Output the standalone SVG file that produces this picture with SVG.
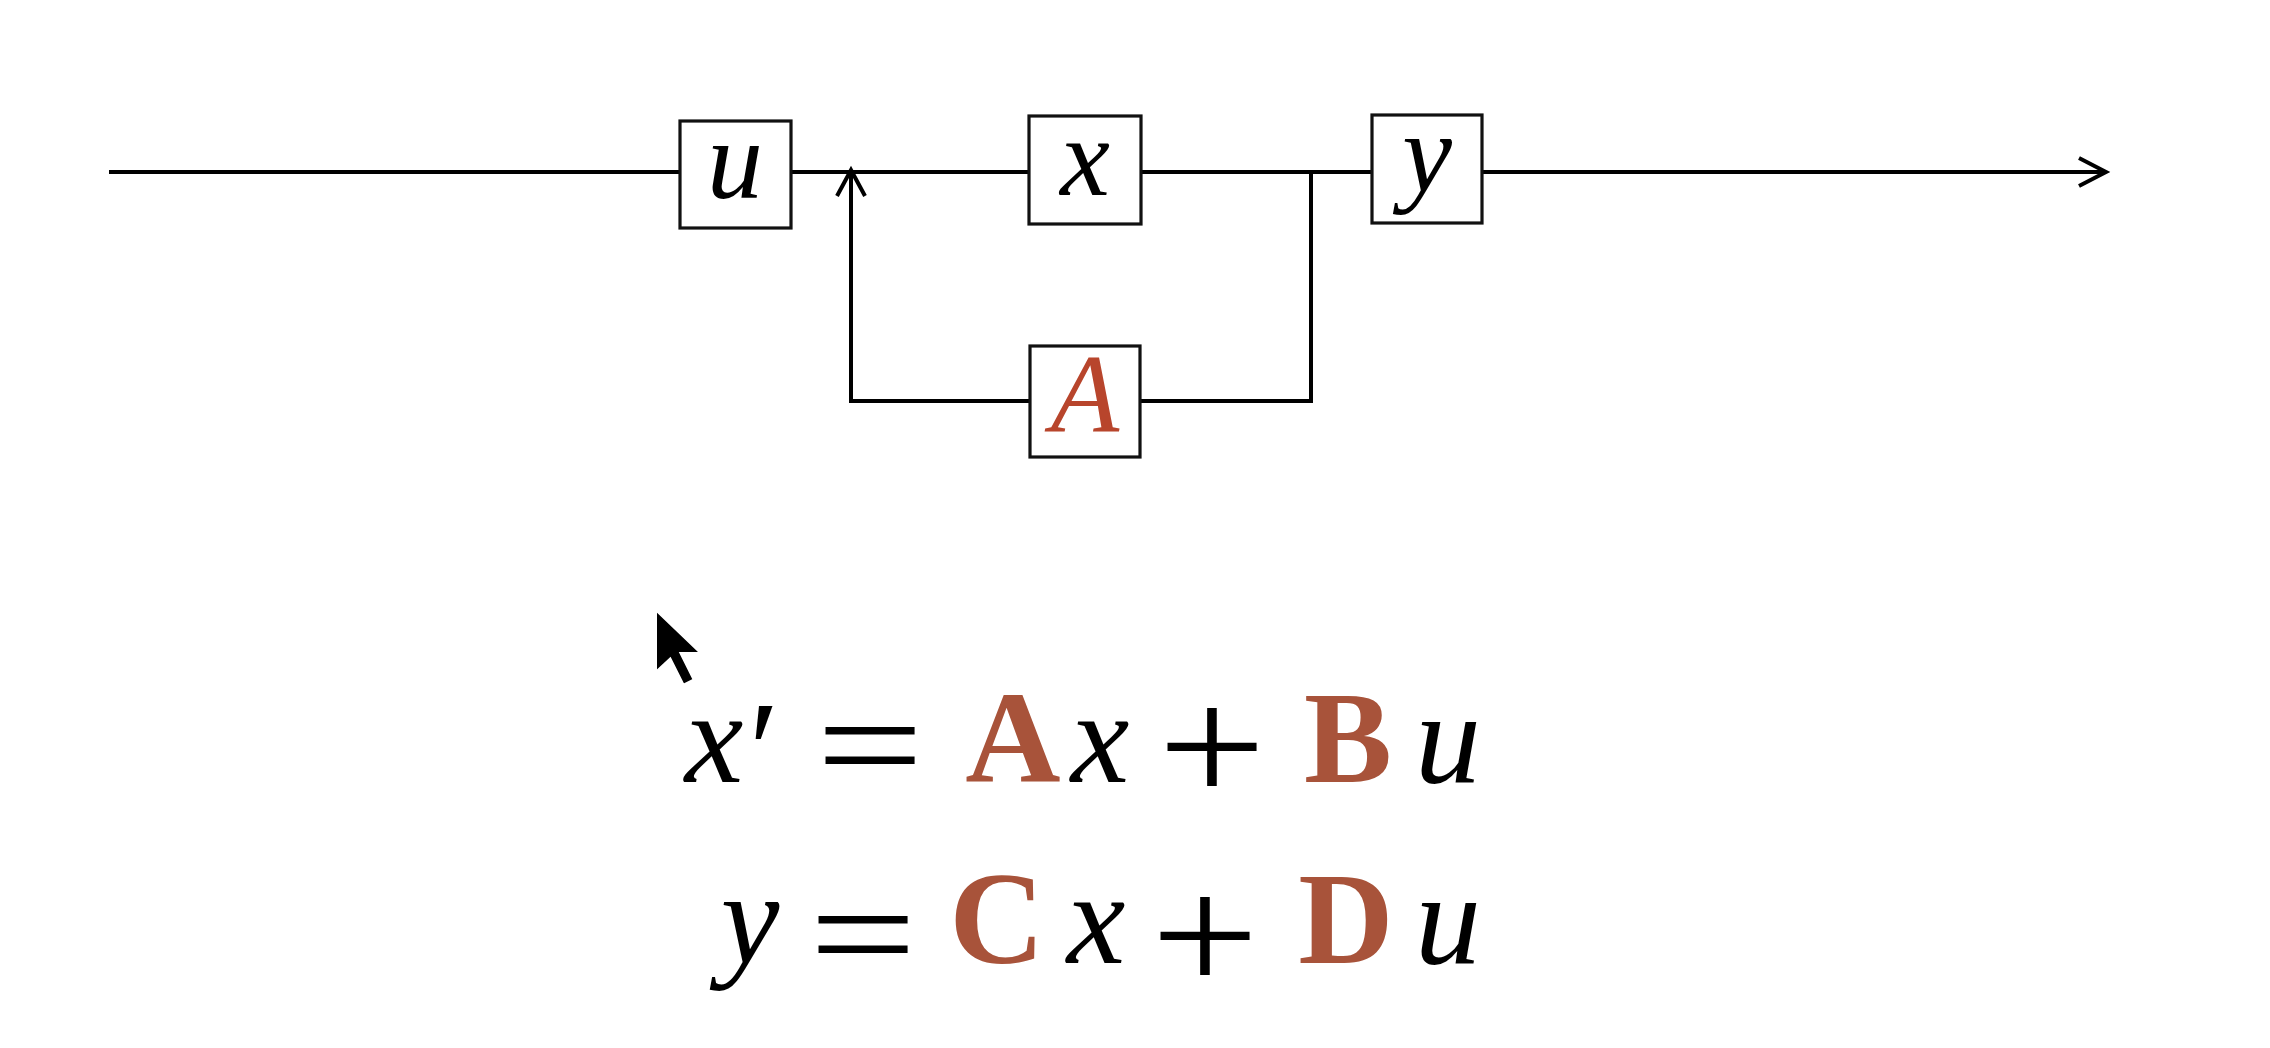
<svg xmlns="http://www.w3.org/2000/svg" width="2270" height="1048" viewBox="0 0 2270 1048">
<style>
.box{fill:#fff;stroke:#111;stroke-width:3.2}
.wire{fill:none;stroke:#000;stroke-width:4;stroke-linecap:butt;stroke-linejoin:miter}
.lbl{font-family:"Liberation Serif",serif;font-style:italic;font-size:112px;fill:#000;text-anchor:middle}
.eq{font-family:"Liberation Serif",serif;font-size:132px;fill:#000;text-anchor:middle}
.ev{font-style:italic}
.eb{font-weight:bold;fill:#A8533A}
</style>
<rect width="2270" height="1048" fill="#fff"/>
<g id="connectors">
<line class="wire" x1="109" y1="172" x2="680" y2="172"/>
<line class="wire" x1="791" y1="172" x2="1029" y2="172"/>
<line class="wire" x1="1141" y1="172" x2="1372" y2="172"/>
<line class="wire" x1="1482" y1="172" x2="2105" y2="172"/>
<polyline class="wire" points="2079,158 2106,172 2079,186"/>
<polyline class="wire" points="1030,401 851,401 851,172"/>
<polyline class="wire" points="837,196 851,170 865,196"/>
<polyline class="wire" points="1140,401 1311,401 1311,172"/>
</g>
<g id="node-u">
<rect class="box" x="680" y="121" width="111" height="107"/>
<text class="lbl" x="735" y="198">u</text>
</g>
<g id="node-x">
<rect class="box" x="1029" y="116" width="112" height="108"/>
<text class="lbl" x="1085" y="195">x</text>
</g>
<g id="node-y">
<rect class="box" x="1372" y="115" width="110" height="108"/>
<text class="lbl" x="1427" y="191">y</text>
</g>
<g id="node-A">
<rect class="box" x="1030" y="346" width="110" height="111"/>
<text class="lbl" x="1085" y="432" style="fill:#B8452C">A</text>
</g>
<g id="eq1">
<text class="eq ev" x="714" y="782">x</text>
<text class="eq" x="764" y="798" style="font-size:140px">′</text>
<text class="eq" transform="translate(870,795) scale(1.45,1.12)">=</text>
<text class="eq eb" x="1013" y="782">A</text>
<text class="eq ev" x="1100" y="782">x</text>
<text class="eq" transform="translate(1212,803) scale(1.45,1.27)">+</text>
<text class="eq eb" x="1348" y="782">B</text>
<text class="eq ev" x="1448" y="782">u</text>
</g>
<g id="eq2">
<text class="eq ev" x="750" y="963">y</text>
<text class="eq" transform="translate(863,984) scale(1.45,1.12)">=</text>
<text class="eq eb" x="997" y="963">C</text>
<text class="eq ev" x="1096" y="963">x</text>
<text class="eq" transform="translate(1205,992) scale(1.45,1.27)">+</text>
<text class="eq eb" x="1346" y="963">D</text>
<text class="eq ev" x="1448" y="963">u</text>
</g>
<g id="cursor">
<polygon points="655,608 655,674 670,660 683,686 695,680 682,654 703,654" fill="#000" stroke="#fff" stroke-width="4" stroke-linejoin="miter"/>
</g>
</svg>
